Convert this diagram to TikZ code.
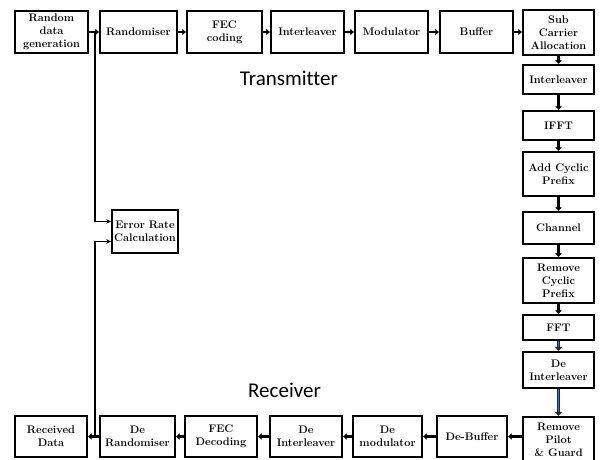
\documentclass[tikz,border=0pt]{standalone}
\usepackage{fontspec}
\newfontfamily\labfont[Ligatures=NoCommon]{Carlito}
\usetikzlibrary{arrows.meta,calc}
\definecolor{dblblue}{HTML}{4A6FA5}
\begin{document}
\begin{tikzpicture}[x=1pt,y=-1pt,
  box/.style={draw,line width=2.4pt,align=center,inner sep=1pt,
    font=\fontsize{11}{12.8}\selectfont\bfseries},
  arr/.style={line width=2.6pt,-{Triangle[length=3.5pt,width=6.5pt]}},
  fb/.style={line width=1.2pt,-{Stealth[length=4.5pt,width=4.5pt]}},
  dblout/.style={line width=3.4pt,black!85,-{Triangle[length=4pt,width=7.5pt]}},
  dblin/.style={line width=1.2pt,dblblue,shorten >=4pt},
  lab/.style={font=\labfont\fontsize{21}{24}\selectfont}
]
\useasboundingbox (0,0) rectangle (605,459);
\fill[white] (0,0) rectangle (605,459);
\clip (0,0) rectangle (605,459);

% top row
\node[box,minimum width=73pt,minimum height=42pt] (gen) at (51.5,32) {Random\\data\\generation};
\node[box,minimum width=77pt,minimum height=42pt] (rand) at (138.5,32) {Randomiser};
\node[box,minimum width=75pt,minimum height=42pt] (fec) at (224.5,32) {FEC\\coding};
\node[box,minimum width=73pt,minimum height=42pt] (intl) at (307.5,32) {Interleaver};
\node[box,minimum width=73pt,minimum height=42pt] (mod) at (391.5,32) {Modulator};
\node[box,minimum width=73pt,minimum height=42pt] (buf) at (476.5,32) {Buffer};
\node[box,minimum width=71pt,minimum height=45pt] (sca) at (558.5,32.5) {Sub\\Carrier\\Allocation};

% right column
\node[box,minimum width=71pt,minimum height=29pt] (intl2) at (558.5,79.5) {Interleaver};
\node[box,minimum width=71pt,minimum height=29pt] (ifft) at (558.5,125.5) {IFFT};
\node[box,minimum width=71pt,minimum height=44pt] (acp) at (558.5,174) {Add Cyclic\\Prefix};
\node[box,minimum width=71pt,minimum height=32pt] (chan) at (558.5,228) {Channel};
\node[box,minimum width=71pt,minimum height=45pt] (rcp) at (558.5,280.5) {Remove\\Cyclic\\Prefix};
\node[box,minimum width=71pt,minimum height=25pt] (fft) at (558.5,327.5) {FFT};
\node[box,minimum width=71pt,minimum height=36pt] (dint) at (558.5,370) {De\\Interleaver};
\node[box,minimum width=71pt,minimum height=46pt] (rpg) at (558.5,440) {Remove\\Pilot\\\& Guard};

% bottom row
\node[box,minimum width=72pt,minimum height=41pt] (recv) at (51,436.5) {Received\\Data};
\node[box,minimum width=75pt,minimum height=41pt] (derand) at (137.5,436.5) {De\\Randomiser};
\node[box,minimum width=72pt,minimum height=41pt] (fecd) at (221,436.5) {FEC\\Decoding};
\node[box,minimum width=72pt,minimum height=41pt] (dint2) at (306,436.5) {De\\Interleaver};
\node[box,minimum width=69pt,minimum height=41pt] (demod) at (387.5,436.5) {De\\modulator};
\node[box,minimum width=70pt,minimum height=41pt] (debuf) at (472,436.5) {De-Buffer};

% error rate
\node[box,minimum width=66pt,minimum height=43pt] (err) at (145,231.5) {Error Rate\\Calculation};

% labels
\node[lab] (tx) at (289,78) {Transmitter};
\node[lab] (rx) at (284.5,390) {Receiver};

% top arrows
\draw[arr] (gen) -- (rand);
\draw[arr] (rand) -- (fec);
\draw[arr] (fec) -- (intl);
\draw[arr] (intl) -- (mod);
\draw[arr] (mod) -- (buf);
\draw[arr] (buf.east) -- (buf.east -| sca.west);

% right column arrows
\draw[arr] (sca) -- (intl2);
\draw[arr] (intl2) -- (ifft);
\draw[arr] (ifft) -- (acp);
\draw[arr] (acp) -- (chan);
\draw[arr] (chan) -- (rcp);
\draw[arr] (rcp) -- (fft);
\draw[dblout] (fft) -- (dint);
\draw[dblin] (fft) -- (dint);
\draw[dblout] (dint) -- (rpg);
\draw[dblin] (dint) -- (rpg);

% bottom arrows
\draw[arr] (rpg.west |- debuf.east) -- (debuf.east);
\draw[arr] (debuf) -- (demod);
\draw[arr] (demod) -- (dint2);
\draw[arr] (dint2) -- (fecd);
\draw[arr] (fecd) -- (derand);
\draw[arr] (derand) -- (recv);

% feedback to error rate
\coordinate (b1) at (95,32);
\coordinate (b2) at (95,436.5);
\draw[fb] (b1) |- ($(err.west)+(0,-10)$);
\draw[fb] (b2) |- ($(err.west)+(0,10)$);
\end{tikzpicture}
\end{document}
